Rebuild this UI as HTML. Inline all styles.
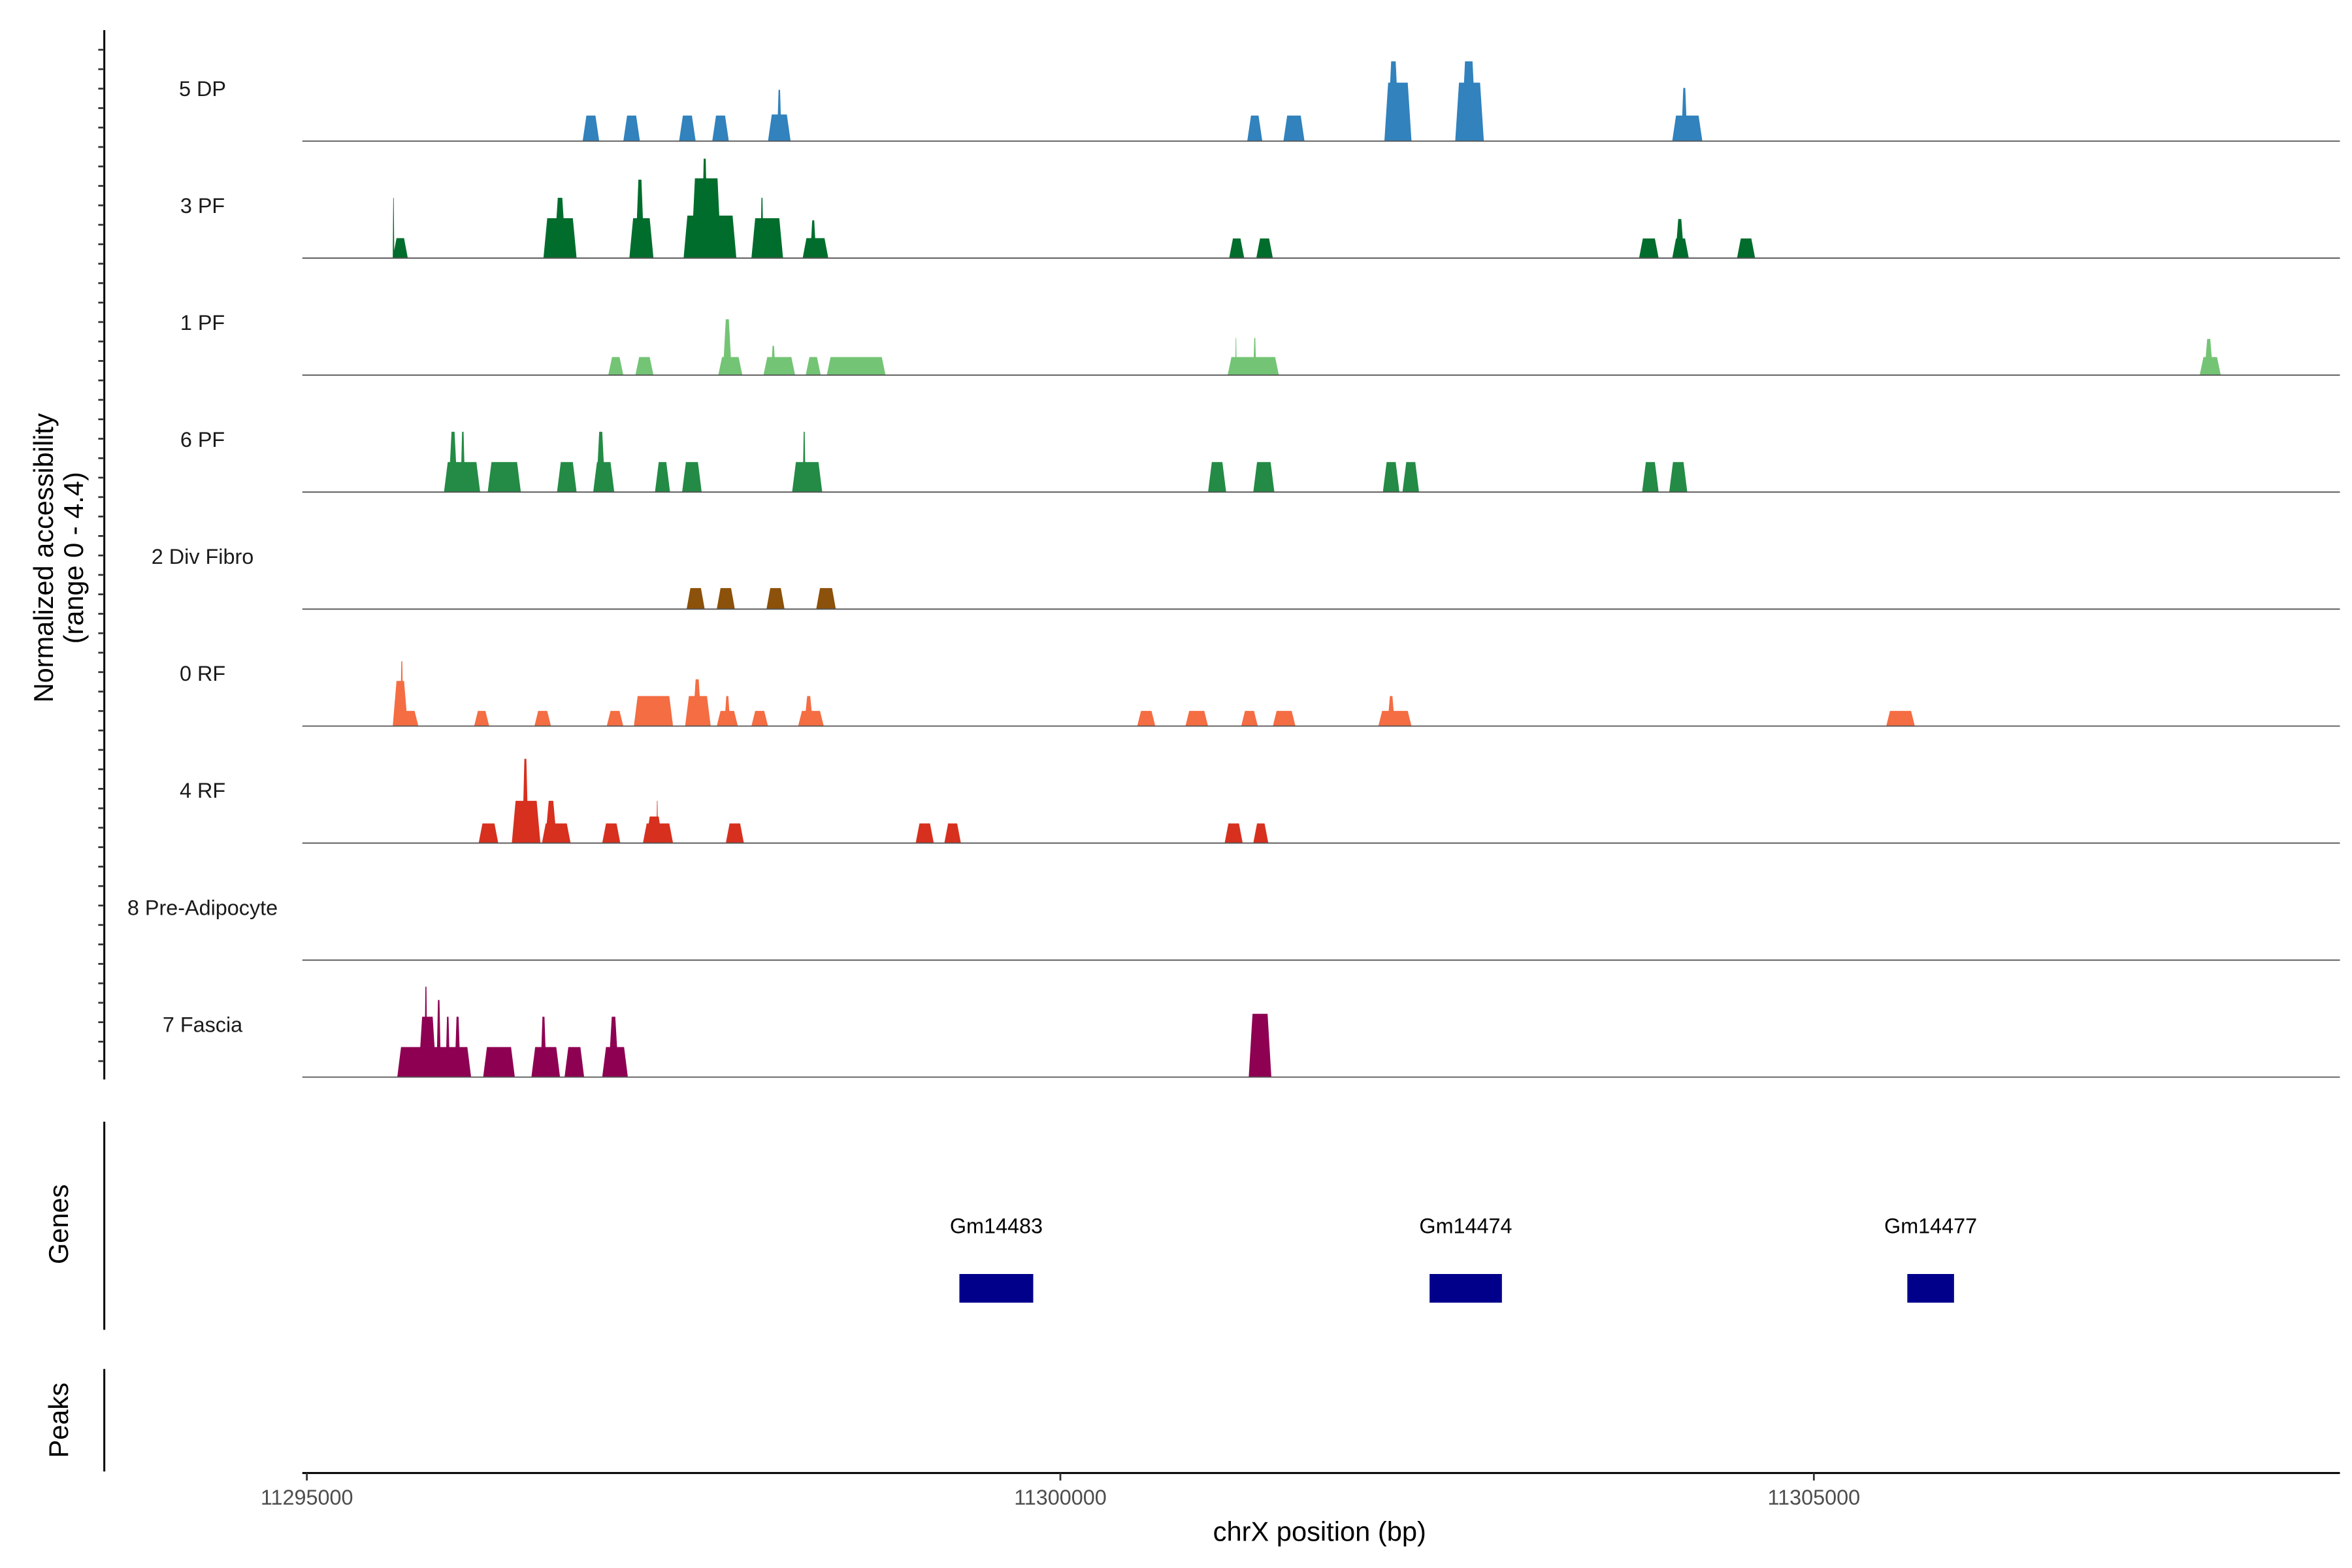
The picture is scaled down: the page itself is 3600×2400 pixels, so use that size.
<!DOCTYPE html>
<html><head><meta charset="utf-8"><style>
html,body{margin:0;padding:0;background:#fff;}
svg{display:block;font-family:"Liberation Sans",Arial,sans-serif;}
</style></head><body>
<svg id="chart" width="3600" height="2400" viewBox="0 0 1556 1040" preserveAspectRatio="none" xmlns="http://www.w3.org/2000/svg">
<rect x="0" y="0" width="1556" height="1040" fill="#fff"/>
<g id="tracks"></g>
<g id="axes"></g>
</svg>
<script>
// Track data: [start kb offset from 11295000, end kb offset, normalized value]
const trackNames = ["5 DP","3 PF","1 PF","6 PF","2 Div Fibro","0 RF","4 RF","8 Pre-Adipocyte","7 Fascia"];
const trackColors = ["#3182bd","#006d2c","#74c476","#238b45","#8c510a","#f46d43","#d7301f","#999999","#8e0152"];
const peaks5DP = [[1.83,1.94,0.96],[2.10,2.21,0.96],[2.47,2.58,0.96],[2.69,2.80,0.96],[3.06,3.21,1.0],[3.12,3.15,1.93],[6.24,6.34,0.96],[6.48,6.62,0.96],[7.15,7.33,2.2],[7.17,7.25,3.0],[7.62,7.81,2.2],[7.66,7.76,3.0],[9.06,9.26,0.96],[9.12,9.16,2.0]];
const peaks3PF = [[0.57,0.67,0.75],[0.57,0.58,2.27],[1.57,1.79,1.5],[1.64,1.72,2.27],[2.14,2.30,1.5],[2.18,2.24,2.95],[2.50,2.85,1.6],[2.55,2.75,3.0],[2.62,2.66,3.74],[2.95,3.16,1.5],[3.01,3.03,2.27],[3.29,3.46,0.75],[3.34,3.38,1.42],[6.12,6.22,0.74],[6.30,6.41,0.74],[8.84,8.97,0.74],[9.06,9.17,0.74],[9.08,9.14,1.47],[9.49,9.61,0.74]];
const peaks1PF = [[2.00,2.10,0.68],[2.18,2.30,0.68],[2.73,2.89,0.68],[2.76,2.82,2.1],[3.03,3.24,0.68],[3.08,3.11,1.1],[3.31,3.41,0.68],[3.45,3.84,0.68],[6.11,6.45,0.68],[6.16,6.17,1.4],[6.28,6.30,1.4],[12.56,12.70,0.68],[12.59,12.65,1.36]];
const peaks6PF = [[0.91,1.15,1.13],[0.94,1.00,2.27],[1.02,1.05,2.27],[1.20,1.42,1.13],[1.66,1.79,1.13],[1.90,2.04,1.13],[1.92,1.98,2.27],[2.31,2.41,1.13],[2.49,2.62,1.13],[3.22,3.42,1.13],[3.29,3.31,2.27],[5.98,6.10,1.13],[6.28,6.42,1.13],[7.14,7.25,1.13],[7.27,7.38,1.13],[8.86,8.97,1.13],[9.04,9.16,1.13]];
const peaksDivFibro = [[2.52,2.64,0.79],[2.72,2.84,0.79],[3.05,3.17,0.79],[3.38,3.51,0.79]];
const peaks0RF = [[0.57,0.74,0.57],[0.57,0.67,1.7],[0.62,0.64,2.44],[1.11,1.21,0.57],[1.51,1.62,0.57],[1.99,2.10,0.57],[2.17,2.43,1.13],[2.51,2.68,1.13],[2.56,2.62,1.76],[2.72,2.86,0.57],[2.77,2.81,1.13],[2.95,3.06,0.57],[3.26,3.43,0.57],[3.30,3.36,1.13],[5.51,5.63,0.57],[5.83,5.98,0.57],[6.20,6.31,0.57],[6.41,6.56,0.57],[7.11,7.33,0.57],[7.17,7.22,1.13],[10.48,10.67,0.57]];
const peaks4RF = [[1.14,1.27,0.74],[1.36,1.55,1.59],[1.43,1.47,3.17],[1.56,1.75,0.74],[1.58,1.66,1.59],[1.96,2.08,0.74],[2.23,2.43,0.74],[2.25,2.36,1.0],[2.32,2.33,1.59],[2.78,2.90,0.74],[4.04,4.16,0.74],[4.23,4.34,0.74],[6.09,6.21,0.74],[6.28,6.38,0.74]];
const peaksPreAdipocyte = [];
const peaksFascia = [[0.60,1.09,1.13],[0.74,0.86,2.27],[0.78,0.80,3.4],[0.86,0.89,2.9],[0.92,0.95,2.27],[0.98,1.02,2.27],[1.17,1.38,1.13],[1.49,1.68,1.13],[1.55,1.59,2.27],[1.71,1.84,1.13],[1.96,2.13,1.13],[2.00,2.07,2.27],[6.25,6.40,2.38]];
const allPeaks = [peaks5DP,peaks3PF,peaks1PF,peaks6PF,peaksDivFibro,peaks0RF,peaks4RF,peaksPreAdipocyte,peaksFascia];
const geneNames = ["Gm14483","Gm14474","Gm14477"];
const geneStarts = [4.33,7.45,10.62];
const geneEnds = [4.82,7.93,10.93];
const xTickValues = [11295000,11300000,11305000];
const xTickLabels = ["11295000","11300000","11305000"];

const NS = "http://www.w3.org/2000/svg";
const X0 = 203, PXKB = 99.7;
const xScale = kb => X0 + kb * PXKB;
const trackTop = 16, trackH = 77.6, yMax = 4.4;
const baseY = i => trackTop + trackH * (i + 1);
const yScale = (i, v) => baseY(i) - v / yMax * trackH;
function mk(tag, attrs, parent){const e=document.createElementNS(NS,tag);for(const k in attrs)e.setAttribute(k,attrs[k]);parent.appendChild(e);return e;}
const tracks = document.getElementById('tracks');
const axes = document.getElementById('axes');

trackNames.forEach((name, i) => {
  const g = mk('g', {}, tracks);
  
  
  const lab = mk('text', {x:134, y:baseY(i)-30, 'font-size':14, 'text-anchor':'middle', fill:'#1a1a1a'}, g);
  lab.textContent = name;
  
  
  allPeaks[i].forEach(p => {
    const s = xScale(p[0]), e = xScale(p[1]), b = baseY(i), t = yScale(i, p[2]);
    const sl = Math.min(2.5, (e - s) / 3);
    const poly = mk('polygon', {points:`${s},${b} ${s+sl},${t} ${e-sl},${t} ${e},${b}`, fill:trackColors[i]}, g);
    
    
  });
  const bl = mk('line', {x1:200, x2:1548, y1:baseY(i), y2:baseY(i), stroke:'#555', 'stroke-width':0.8}, g);
  
  
});

// left axis
const la = mk('line', {x1:69, x2:69, y1:20, y2:716, stroke:'#000', 'stroke-width':1.3}, axes);


for (let y = 33; y < 716; y += 12.9) {
  const tk = mk('line', {x1:65, x2:69, y1:y, y2:y, stroke:'#333', 'stroke-width':1.2}, axes);
  
  
}
const yt = mk('text', {transform:'translate(35,370) rotate(-90)', 'font-size':18, 'text-anchor':'middle', fill:'#000'}, axes);


const ts1 = mk('tspan', {x:0, dy:0}, yt); ts1.textContent = 'Normalized accessibility';
const ts2 = mk('tspan', {x:0, dy:20}, yt); ts2.textContent = '(range 0 - 4.4)';

// genes panel
const ga = mk('line', {x1:69, x2:69, y1:744, y2:882, stroke:'#000', 'stroke-width':1.3}, axes);


const gt = mk('text', {transform:'translate(45,812) rotate(-90)', 'font-size':18, 'text-anchor':'middle', fill:'#000'}, axes);
gt.textContent = 'Genes';


geneNames.forEach((n, i) => {
  const s = xScale(geneStarts[i]), e = xScale(geneEnds[i]);
  const r = mk('rect', {x:s, y:845, width:e-s, height:19, fill:'#00008b'}, axes);
  
  
  const t = mk('text', {x:(s+e)/2, y:818, 'font-size':14, 'text-anchor':'middle', fill:'#000'}, axes);
  t.textContent = n;
  
  
});

// peaks panel
const pa = mk('line', {x1:69, x2:69, y1:908, y2:976, stroke:'#000', 'stroke-width':1.3}, axes);


const pt = mk('text', {transform:'translate(45,942) rotate(-90)', 'font-size':18, 'text-anchor':'middle', fill:'#000'}, axes);
pt.textContent = 'Peaks';



// x axis
const xa = mk('line', {x1:200, x2:1548, y1:977, y2:977, stroke:'#000', 'stroke-width':1.3}, axes);


xTickValues.forEach((v, i) => {
  const x = xScale((v - 11295000) / 1000);
  const tk = mk('line', {x1:x, x2:x, y1:977, y2:982, stroke:'#333', 'stroke-width':1.2}, axes);
  
  
  const t = mk('text', {x:x, y:998, 'font-size':14, 'text-anchor':'middle', fill:'#4d4d4d'}, axes);
  t.textContent = xTickLabels[i];
  
  
});
const xt = mk('text', {x:873, y:1022, 'font-size':18, 'text-anchor':'middle', fill:'#000'}, axes);
xt.textContent = 'chrX position (bp)';


</script>
</body></html>
